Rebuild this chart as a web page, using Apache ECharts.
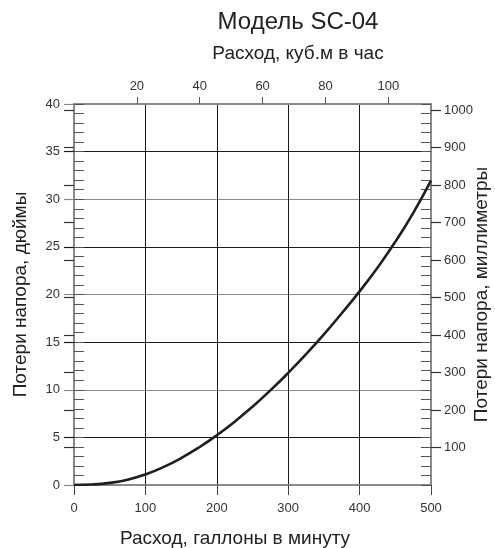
<!DOCTYPE html>
<html>
<head>
<meta charset="utf-8">
<script src="https://cdn.jsdelivr.net/npm/echarts@6/dist/echarts.min.js"></script>
<style>html,body{margin:0;padding:0;background:#fff;}#c{width:495px;height:548px;}</style>
</head>
<body>
<div id="c"></div>
<script>
// ---- data ----
const flowGpm = [0, 25, 50, 75, 100, 125, 150, 175, 200, 225, 250, 275, 300, 325, 350, 375, 400, 425, 450, 475, 500];
const headLossIn = [0, 0.05, 0.22, 0.56, 1.11, 1.87, 2.82, 3.94, 5.22, 6.65, 8.22, 9.93, 11.77, 13.73, 15.81, 18.03, 20.33, 22.81, 25.53, 28.55, 31.95];
const topTickValues = [20, 40, 60, 80, 100];          // m3/h
const rightTickValues = [100, 200, 300, 400, 500, 600, 700, 800, 900, 1000]; // mm
const leftGrayTicks = [0, 10, 20, 30, 40];
const leftBlackTicks = [5, 15, 25, 35];
const titleText = 'Модель SC-04';
const topAxisName = 'Расход, куб.м в час';
const bottomAxisName = 'Расход, галлоны в минуту';
const leftAxisName = 'Потери напора, дюймы';
const rightAxisName = 'Потери напора, миллиметры';

const GPM_MAX = 500;
const IN_MAX = 40;
const M3H_PER_GPM = 0.2271247;
const MM_PER_IN = 25.4;

const FONT = 'Liberation Sans, Arial, sans-serif';
const GRAY = '#8a8a8a';
const DARK = '#1a1a1a';
const LABEL = '#333';

const chart = echarts.init(document.getElementById('c'), null, {renderer: 'canvas'});

const hidden = {axisLine: {show: false}, axisLabel: {show: false}, splitLine: {show: false}};
const plain = v => String(v);

chart.setOption({
  animation: false,
  backgroundColor: '#fff',
  grid: {left: 74, right: 64, top: 104, bottom: 63, containLabel: false, outerBoundsMode: 'none'},
  graphic: [
    {type: 'text', x: 298, y: 22, style: {text: titleText, fontSize: 24, fontFamily: FONT, fill: '#222', align: 'center', verticalAlign: 'middle'}},
    {type: 'text', x: 298, y: 54, style: {text: topAxisName, fontSize: 19, fontFamily: FONT, fill: '#222', align: 'center', verticalAlign: 'middle'}},
    {type: 'text', x: 235, y: 539, style: {text: bottomAxisName, fontSize: 19, fontFamily: FONT, fill: '#222', align: 'center', verticalAlign: 'middle'}}
  ],
  xAxis: [
    {
      type: 'value', position: 'bottom', min: 0, max: GPM_MAX, interval: 100,
      axisLine: {show: true, onZero: false, lineStyle: {color: GRAY, width: 2}},
      axisTick: {show: true, length: 10, lineStyle: {color: '#444', width: 1}},
      axisLabel: {color: LABEL, fontSize: 13, fontFamily: FONT, margin: 17, formatter: plain},
      splitLine: {show: true, showMinLine: false, showMaxLine: false, lineStyle: {color: DARK, width: 1}}
    },
    {
      type: 'value', position: 'top', min: 0, max: GPM_MAX * M3H_PER_GPM, interval: 20,
      axisLine: {show: true, onZero: false, lineStyle: {color: GRAY, width: 2}},
      axisTick: {show: true, length: 7, customValues: topTickValues, lineStyle: {color: '#555', width: 1}},
      axisLabel: {color: LABEL, fontSize: 13, fontFamily: FONT, margin: 11, customValues: topTickValues, formatter: plain},
      splitLine: {show: false}
    }
  ],
  yAxis: [
    { // main left inch axis
      type: 'value', position: 'left', min: 0, max: IN_MAX, interval: 5,
      name: leftAxisName, nameLocation: 'middle', nameRotate: 90, nameGap: 44, nameMoveOverlap: false,
      nameTextStyle: {fontSize: 19, fontFamily: FONT, color: '#222'},
      axisLine: {show: true, onZero: false, lineStyle: {color: GRAY, width: 2}},
      axisTick: {show: false},
      axisLabel: {color: LABEL, fontSize: 13, fontFamily: FONT, margin: 14, formatter: plain},
      splitLine: {show: true, lineStyle: {color: [GRAY, DARK], width: 1.2}}
    },
    { // right mm axis (labels, outward ticks)
      type: 'value', position: 'right', min: 0, max: IN_MAX * MM_PER_IN, interval: 100,
      name: rightAxisName, nameLocation: 'middle', nameRotate: 90, nameGap: 41, nameMoveOverlap: false,
      nameTextStyle: {fontSize: 19, fontFamily: FONT, color: '#222'},
      axisLine: {show: true, onZero: false, lineStyle: {color: GRAY, width: 2}},
      axisTick: {show: true, length: 10, customValues: rightTickValues, lineStyle: {color: '#333', width: 1.2}},
      axisLabel: {color: LABEL, fontSize: 13, fontFamily: FONT, margin: 13, customValues: rightTickValues, formatter: plain},
      splitLine: {show: false}
    },
    Object.assign({ // right mm axis inward part of major ticks
      type: 'value', position: 'right', min: 0, max: IN_MAX * MM_PER_IN, interval: 100,
      axisTick: {show: true, inside: true, length: 10, customValues: rightTickValues, lineStyle: {color: '#333', width: 1.2}}
    }, hidden),
    Object.assign({ // left minor inch ticks, inside
      type: 'value', position: 'left', min: 0, max: IN_MAX, interval: 1,
      axisTick: {show: true, inside: true, length: 10, lineStyle: {color: '#555', width: 1}}
    }, hidden),
    Object.assign({ // right minor inch ticks, inside
      type: 'value', position: 'right', min: 0, max: IN_MAX, interval: 1,
      axisTick: {show: true, inside: true, length: 10, lineStyle: {color: '#555', width: 1}}
    }, hidden),
    Object.assign({ // left gray outward ticks
      type: 'value', position: 'left', min: 0, max: IN_MAX, interval: 10,
      axisTick: {show: true, length: 10, customValues: leftGrayTicks, lineStyle: {color: GRAY, width: 1.2}}
    }, hidden),
    Object.assign({ // left black outward ticks
      type: 'value', position: 'left', min: 0, max: IN_MAX, interval: 5,
      axisTick: {show: true, length: 10, customValues: leftBlackTicks, lineStyle: {color: DARK, width: 1.2}}
    }, hidden)
  ],
  series: [{
    type: 'line',
    xAxisIndex: 0, yAxisIndex: 0,
    data: flowGpm.map((x, i) => [x, headLossIn[i]]),
    smooth: 0.5,
    showSymbol: false,
    lineStyle: {color: '#1e1e1e', width: 2.6},
    z: 10
  }]
});
</script>
</body>
</html>
